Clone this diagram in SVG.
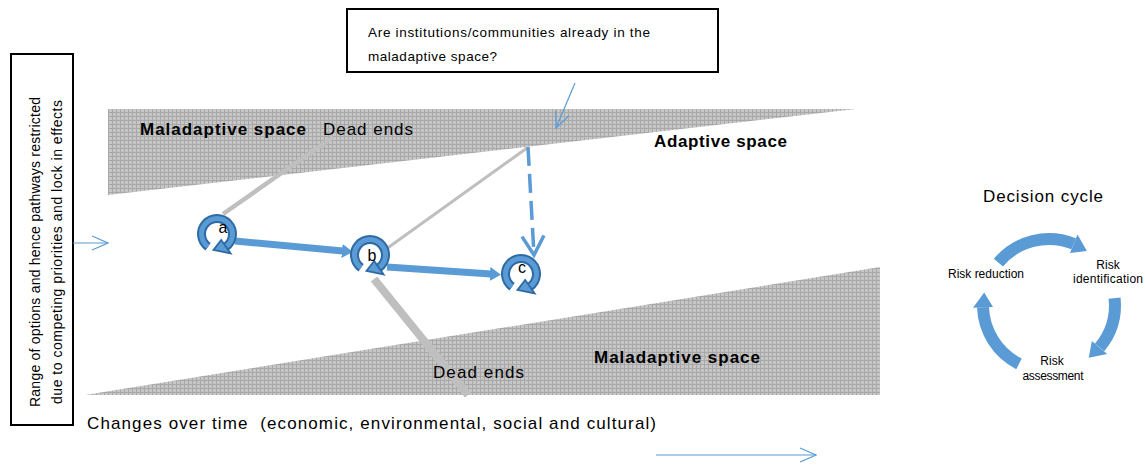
<svg xmlns="http://www.w3.org/2000/svg" xmlns:xlink="http://www.w3.org/1999/xlink" width="1145" height="466" viewBox="0 0 1145 466">
  <style>
    text { font-family: "Liberation Sans", Arial, sans-serif; fill: #000; }
    .bold { font-weight: bold; font-size: 17px; }
    .lbl { font-size: 17px; }
    .node { font-size: 16px; text-anchor: middle; }
    .small { font-size: 12px; }
    .box { fill: #fff; stroke: #000; stroke-width: 2; }
    .thin { stroke: #5b9bd5; stroke-width: 1.2; fill: none; }
    .path { stroke: #5b9bd5; stroke-width: 7; fill: none; }
    .dead { stroke: #bfbfbf; fill: none; }
    .cycle { stroke: #5b9bd5; stroke-width: 12; fill: none; }
    .cyclehead { fill: #5b9bd5; }
  </style>
  <defs>
    <pattern id="grid" width="4" height="4" patternUnits="userSpaceOnUse">
      <rect width="4" height="4" fill="#c6c6c6"/>
      <path d="M0 0.5H4M0.5 0V4" stroke="#a8a8a8" stroke-width="1"/>
    </pattern>
    <marker id="openHead" markerUnits="userSpaceOnUse" markerWidth="18" markerHeight="16" viewBox="0 0 18 16" refX="17" refY="8" orient="auto">
      <path d="M1 1 L17 8 L1 15" fill="none" stroke="#5b9bd5" stroke-width="1.2"/>
    </marker>
    <marker id="solidHead" markerUnits="userSpaceOnUse" markerWidth="11" markerHeight="14" viewBox="0 0 11 14" refX="1" refY="7" orient="auto">
      <path d="M0 0 L11 7 L0 14 Z" fill="#5b9bd5"/>
    </marker>
    <marker id="vHead" markerUnits="userSpaceOnUse" markerWidth="26" markerHeight="26" viewBox="0 0 26 26" refX="22" refY="13" orient="auto">
      <path d="M3 2 L22 13 L3 24" fill="none" stroke="#5b9bd5" stroke-width="3.5"/>
    </marker>
    <!-- circular decision arrow drawn round each point on the path -->
    <g id="loop">
      <path d="M-8.9 12.7 A15.5 15.5 0 1 1 8.9 12.7" fill="none" stroke="#2e6aa3" stroke-width="9"/>
      <path d="M-8.9 12.7 A15.5 15.5 0 1 1 8.9 12.7" fill="none" stroke="#5b9bd5" stroke-width="5"/>
      <path d="M4.2 6 L13.6 19.4 L-3.5 16 Z" fill="#5b9bd5" stroke="#2e6aa3" stroke-width="1.8" stroke-linejoin="miter"/>
    </g>
  </defs>

  <!-- shaded regions -->
  <g id="regions">
    <polygon points="108,109 856,109 108,195" fill="url(#grid)"/>
    <polygon points="85,395 880,267 880,395" fill="url(#grid)"/>
  </g>

  <!-- question box -->
  <g id="question">
    <rect class="box" x="347" y="9" width="371" height="63"/>
    <text x="368" y="37" font-size="13.5" textLength="282">Are institutions/communities already in the</text>
    <text x="368" y="61" font-size="13.5" textLength="129">maladaptive space?</text>
  </g>

  <!-- side box -->
  <g id="range">
    <rect class="box" x="11" y="54" width="62" height="371"/>
    <text transform="translate(40,252) rotate(-90)" font-size="14" text-anchor="middle" textLength="310">Range of options and hence pathways restricted</text>
    <text transform="translate(62,252) rotate(-90)" font-size="14" text-anchor="middle" textLength="304">due to competing priorities and lock in effects</text>
  </g>

  <!-- connectors -->
  <g id="connectors">
    <line class="dead" x1="223" y1="214" x2="333" y2="137" stroke-width="4.5"/>
    <line class="dead" x1="382" y1="252" x2="527" y2="148" stroke-width="3"/>
    <line class="dead" x1="374" y1="279" x2="468" y2="395" stroke-width="8"/>
    <line class="path" x1="235" y1="241" x2="343" y2="251" marker-end="url(#solidHead)"/>
    <line class="path" x1="387" y1="267" x2="491" y2="274" marker-end="url(#solidHead)"/>
    <path d="M528 147 L534 255" fill="none" stroke="#5b9bd5" stroke-width="3.5" stroke-dasharray="19 8" marker-end="url(#vHead)"/>
    <line class="thin" x1="575" y1="83" x2="556" y2="128" marker-end="url(#openHead)"/>
    <line class="thin" x1="73" y1="243" x2="108" y2="243" marker-end="url(#openHead)"/>
    <line class="thin" x1="656" y1="455" x2="816" y2="455" marker-end="url(#openHead)"/>
  </g>

  <!-- region labels -->
  <g id="labels">
    <text class="bold" x="140" y="135" textLength="166">Maladaptive space</text>
    <text class="lbl" x="323" y="135" textLength="90">Dead ends</text>
    <text class="bold" x="654" y="147" textLength="133">Adaptive space</text>
    <text class="bold" x="594" y="363" textLength="166">Maladaptive space</text>
    <text class="lbl" x="433" y="378" textLength="91">Dead ends</text>
    <text class="lbl" x="87" y="429" textLength="569" xml:space="preserve">Changes over time  (economic, environmental, social and cultural)</text>
  </g>

  <!-- decision points -->
  <g id="node-a">
    <use xlink:href="#loop" x="217" y="234"/>
    <text class="node" x="223" y="233">a</text>
  </g>
  <g id="node-b">
    <use xlink:href="#loop" x="370" y="255"/>
    <text class="node" x="372" y="261">b</text>
  </g>
  <g id="node-c">
    <use xlink:href="#loop" x="521" y="274"/>
    <text class="node" x="522" y="273">c</text>
  </g>

  <!-- decision cycle -->
  <g id="decision-cycle">
    <text x="983" y="202" font-size="17" textLength="120">Decision cycle</text>
    <path class="cycle" d="M998.4 262.6 A66 66 0 0 1 1073.7 243.8"/>
    <polygon class="cyclehead" points="1070,253.1 1077.5,234.5 1086.9,250.9"/>
    <path class="cycle" d="M1114.6 298.1 A66 66 0 0 1 1099.6 347.4"/>
    <polygon class="cyclehead" points="1091.9,341 1107.2,353.9 1088.7,357.7"/>
    <path class="cycle" d="M1019 363.8 A66 66 0 0 1 983 307.3"/>
    <polygon class="cyclehead" points="993,307 973,307.7 984.2,292.4"/>
  </g>
  <g id="risk-reduction"><text class="small" x="948" y="278" textLength="76">Risk reduction</text></g>
  <g id="risk-identification">
    <text class="small" x="1108" y="269" text-anchor="middle">Risk</text>
    <text class="small" x="1108" y="283" text-anchor="middle" textLength="70">identification</text>
  </g>
  <g id="risk-assessment">
    <text class="small" x="1052" y="365" text-anchor="middle">Risk</text>
    <text class="small" x="1053" y="380" text-anchor="middle" textLength="61">assessment</text>
  </g>
</svg>
